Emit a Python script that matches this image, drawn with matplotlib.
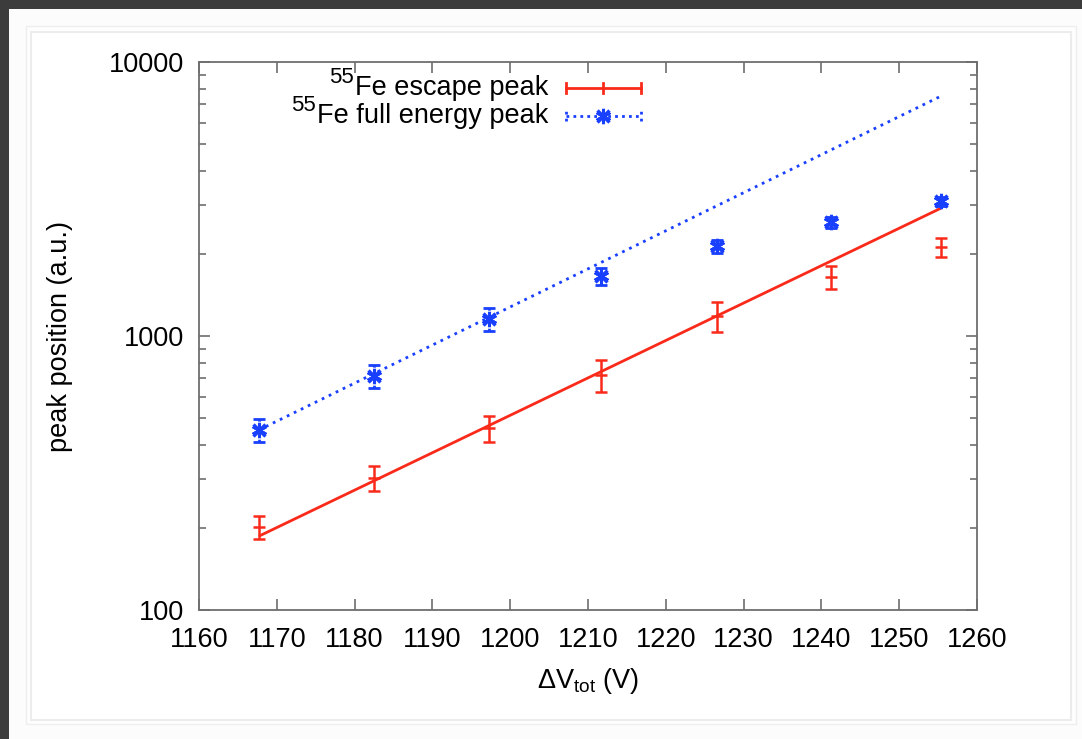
import matplotlib
matplotlib.use("Agg")
import matplotlib.pyplot as plt
from matplotlib.patches import Rectangle
from matplotlib.ticker import LogLocator, FixedLocator, NullFormatter, FuncFormatter
from matplotlib.lines import Line2D

plt.rcParams['font.family'] = ['Liberation Sans', 'DejaVu Sans']
plt.rcParams['mathtext.fontset'] = 'custom'
plt.rcParams['mathtext.rm'] = 'Liberation Sans'
plt.rcParams['mathtext.it'] = 'Liberation Sans'

# ---- data ----
voltage = [1167.7, 1182.5, 1197.3, 1211.7, 1226.6, 1241.2, 1255.4]
escape_peak = [201, 303, 462, 722, 1183, 1645, 2113]
escape_err = [20, 32, 50, 97, 148, 160, 175]
full_peak = [454, 714, 1150, 1655, 2130, 2600, 3100]
full_err = [44, 70, 110, 120, 120, 120, 120]
fit_x = [1167.7, 1255.4]
escape_fit = [186, 2931]
full_fit = [454, 7516]
xticks = [1160, 1170, 1180, 1190, 1200, 1210, 1220, 1230, 1240, 1250, 1260]
yticks = [100, 1000, 10000]
legend_labels = ['Fe escape peak', 'Fe full energy peak']
legend_sup = '55'

RED = '#fa2a1a'
BLUE = '#1a40ff'
GRAY = '#6e6e6e'
FS = 19.5

W, H = 1082, 739
fig = plt.figure(figsize=(W / 100, H / 100), dpi=100)
fig.patch.set_facecolor('#fcfcfc')

# page frame decoration
def px_rect(x0, y0, x1, y1, **kw):
    fig.patches.append(Rectangle((x0 / W, 1 - y1 / H), (x1 - x0) / W, (y1 - y0) / H,
                                 transform=fig.transFigure, figure=fig, zorder=-10, **kw))

px_rect(0, 0, W, 9, facecolor='#3c3c3c', edgecolor='none')
px_rect(0, 0, 9, H, facecolor='#3c3c3c', edgecolor='none')
px_rect(26, 26, 1076, 724, facecolor='#fefefe', edgecolor='#eeeeee', linewidth=1)
px_rect(31, 32, 1071, 720, facecolor='white', edgecolor='#ececec', linewidth=1.5)

ax = fig.add_axes([199 / W, 1 - 610 / H, (977 - 199) / W, (610 - 62) / H])
ax.set_facecolor('none')
ax.set_zorder(5)
ax.set_yscale('log')
ax.set_xlim(1160, 1260)
ax.set_ylim(100, 10000)

for s in ax.spines.values():
    s.set_color(GRAY)
    s.set_linewidth(1.3)

ax.xaxis.set_major_locator(FixedLocator(xticks))
ax.yaxis.set_major_locator(FixedLocator(yticks))
ax.yaxis.set_minor_locator(LogLocator(base=10, subs=range(2, 10)))
ax.yaxis.set_minor_formatter(NullFormatter())
ax.yaxis.set_major_formatter(FuncFormatter(lambda v, p: f"{int(round(v))}"))
ax.tick_params(which='both', direction='in', top=True, right=True, color=GRAY,
               width=1.2, labelsize=FS, labelcolor='black')
ax.tick_params(which='major', length=8)
ax.tick_params(which='minor', length=5)
ax.tick_params(axis='y', pad=11)
ax.tick_params(axis='x', pad=12)

# fit lines
ax.plot(fit_x, escape_fit, color=RED, lw=2.0, solid_capstyle='butt')
ax.plot(fit_x, full_fit, color=BLUE, lw=2.0, linestyle=(0, (1, 1.8)))

# data with error bars
ax.errorbar(voltage, escape_peak, yerr=escape_err, fmt='none', ecolor=RED,
            elinewidth=1.8, capsize=4.5, capthick=1.8)
ax.plot(voltage, escape_peak, linestyle='none', marker='_', color=RED, ms=9, mew=1.8)

eb = ax.errorbar(voltage, full_peak, yerr=full_err, fmt='none', ecolor=BLUE,
                 elinewidth=2.0, capsize=4, capthick=2.0)
eb[2][0].set_linestyle((0, (1, 1.5)))
ax.plot(voltage, full_peak, linestyle='none', marker=(6, 2, 0), color=BLUE, ms=11, mew=2.2)
ax.plot(voltage, full_peak, linestyle='none', marker='x', color=BLUE, ms=8, mew=2.4)

# legend (gnuplot style, drawn by hand)
tr = ax.transAxes
def axpx(xp, yp):
    return (xp - 199) / 778, (610 - yp) / 548

for label, yp, col, ls, mk in [
    (legend_labels[0], 88, RED, '-', '|'),
    (legend_labels[1], 116, BLUE, (0, (1, 1.5)), 'x'),
]:
    tx, ty = axpx(548, yp)
    t = ax.text(tx, ty, label, transform=tr, ha='right', va='center', fontsize=FS)
    ax.annotate(legend_sup, xy=(0, 1), xycoords=t, xytext=(-0.3, -6.0),
                textcoords='offset points', ha='right', va='baseline', fontsize=16)
    x0, yy = axpx(566, yp)
    x1, _ = axpx(641, yp)
    xm, _ = axpx(603, yp)
    _, ylo = axpx(0, yp + 5)
    _, yhi = axpx(0, yp - 5)
    ax.add_line(Line2D([x0, x1], [yy, yy], transform=tr, color=col, lw=2, linestyle=ls))
    ax.add_line(Line2D([x0, x0], [ylo, yhi], transform=tr, color=col, lw=2, linestyle=ls))
    ax.add_line(Line2D([x1, x1], [ylo, yhi], transform=tr, color=col, lw=2, linestyle=ls))
    if mk == '|':
        ax.add_line(Line2D([xm, xm], [ylo, yhi], transform=tr, color=col, lw=2))
    else:
        ax.plot([xm], [yy], transform=tr, marker=(6, 2, 0), color=col, ms=11, mew=2.2)
        ax.plot([xm], [yy], transform=tr, marker='x', color=col, ms=8, mew=2.4)

# axis labels
fig.text(60 / W, 1 - 336 / H, 'peak position (a.u.)', rotation=90, ha='center',
         va='center', fontsize=FS)
fig.text(588 / W, 1 - 681 / H, 'ΔV$_{\\mathrm{tot}}$ (V)', ha='center', va='center',
         fontsize=FS)

fig.savefig('out.png', dpi=100, facecolor=fig.get_facecolor())
